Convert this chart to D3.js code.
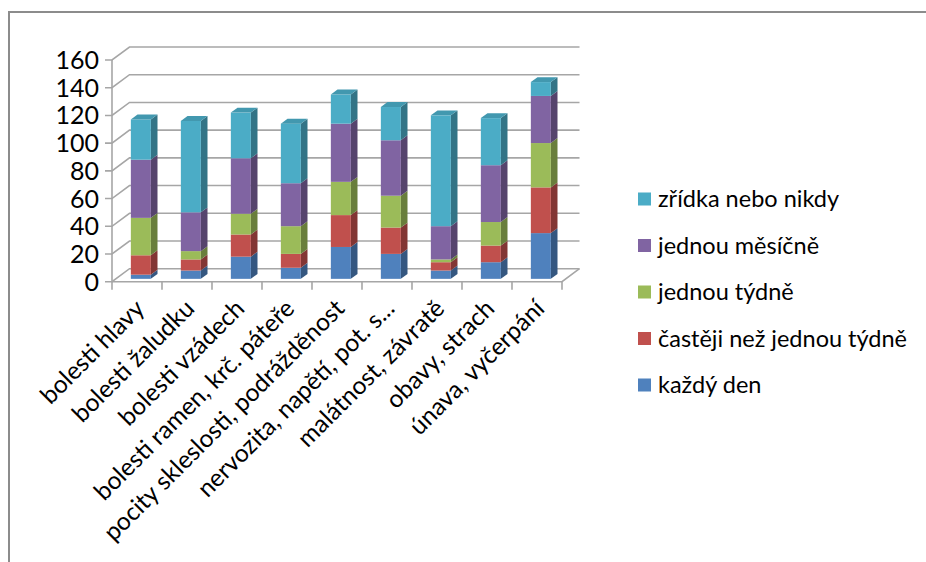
<!DOCTYPE html>
<html><head><meta charset="utf-8">
<script src="https://cdn.jsdelivr.net/npm/d3@7"></script>
<style>body{margin:0;background:#fff}svg{display:block}</style>
</head><body>
<svg id="c" width="926" height="562"></svg>
<script>
const categories = ["bolesti hlavy","bolesti žaludku","bolesti vzádech","bolesti ramen, krč. páteře","pocity skleslosti, podrážděnost","nervozita, napětí, pot. s...","malátnost, závratě","obavy, strach","únava, vyčerpání"];
const seriesNames = ["každý den","častěji než jednou týdně","jednou týdně","jednou měsíčně","zřídka nebo nikdy"];
const kazdyDen   = [3, 6, 16, 8, 23, 18, 6, 12, 33];
const castejiNez = [14, 8, 16, 10, 23, 19, 6, 12, 33];
const jednouTydne= [27, 6, 15, 20, 24, 23, 2, 17, 32];
const jednouMesicne=[42, 28, 40, 31, 42, 40, 24, 41, 34];
const zridka     = [29, 66, 33, 43, 21, 24, 80, 34, 10];
const yTicks = [0,20,40,60,80,100,120,140,160];

const seriesValues = [kazdyDen, castejiNez, jednouTydne, jednouMesicne, zridka];
const colors = ["#4F81BD","#C0504D","#9BBB59","#8064A2","#4BACC6"];

const svg = d3.select("#c");
const font = "Lato, 'Open Sans', sans-serif";

// border
svg.append("rect").attr("x",9).attr("y",12).attr("width",940).attr("height",600)
  .attr("fill","none").attr("stroke","#8c8c8c").attr("stroke-width",2);

const DX = 17.5, DY = -13;
const x = d3.scaleBand().domain(categories).range([112, 562]).paddingInner(0.6).paddingOuter(0.3);
const xb = d3.scaleBand().domain(categories).range([112, 562]);
const y = d3.scaleLinear().domain([0,160]).range([281.7, 60]);
const P = (px, py, d) => [px + DX*d, py + DY*d];

const grid = svg.append("g").attr("stroke","#a6a6a6").attr("stroke-width",1.6).attr("fill","none");
yTicks.forEach(t => {
  const yy = y(t);
  const [bx, by] = P(112, yy, 1);
  grid.append("path").attr("d", `M105,${yy}L112,${yy}L${bx},${by}L${562+DX},${by}`);
});
// axes
grid.append("line").attr("x1",112).attr("y1",y(0)).attr("x2",112).attr("y2",y(160));
grid.append("path").attr("d", `M112,${y(0)}L562,${y(0)}L${562+DX},${y(0)+DY}`);
categories.concat([null]).forEach((c,i) => {
  const xx = c ? xb(c) : 562;
  grid.append("line").attr("x1",xx).attr("x2",xx).attr("y1",y(0)).attr("y2",y(0)+8);
});

// y labels
svg.append("g").selectAll("text").data(yTicks).join("text")
  .attr("x",99).attr("y",d=>y(d)).attr("dy","0.36em").attr("text-anchor","end")
  .attr("font-family",font).attr("font-size",25).attr("fill","#000").text(d=>d);

// bars
const d0 = 0.22, d1 = 0.6;
const shade = (c,k) => d3.color(c).darker(k).formatHex();
const bars = svg.append("g");
categories.forEach((c,i) => {
  let cum = 0;
  seriesValues.forEach((vals, s) => {
    const v = vals[i];
    const lo = cum, hi = cum + v; cum = hi;
    const x0 = x(c), x1 = x(c) + x.bandwidth();
    const [fx0, fyb] = P(x0, y(lo), d0);
    const [fx1, fyt] = P(x1, y(hi), d0);
    const [sx1, syb] = P(x1, y(lo), d1);
    const [, syt] = P(x1, y(hi), d1);
    const [tx0] = P(x0, y(hi), d1);
    bars.append("path").attr("d",`M${fx1},${fyb}L${sx1},${syb}L${sx1},${syt}L${fx1},${fyt}Z`)
      .attr("fill", shade(colors[s],1.1));
    bars.append("rect").attr("x",fx0).attr("y",fyt).attr("width",fx1-fx0).attr("height",fyb-fyt)
      .attr("fill", colors[s]);
    if (s === seriesValues.length-1) {
      bars.append("path").attr("d",`M${fx0},${fyt}L${tx0},${syt}L${sx1},${syt}L${fx1},${fyt}Z`)
        .attr("fill", shade(colors[s],0.35));
    }
  });
});

// category labels
svg.append("g").selectAll("text").data(categories).join("text")
  .attr("transform", d => `translate(${xb(d)+xb.bandwidth()/2+9},${310}) rotate(-45)`)
  .attr("text-anchor","end").attr("font-family",font).attr("font-size",24.5).attr("fill","#000")
  .text(d=>d);

// legend
const legendOrder = [4,3,2,1,0];
const lg = svg.append("g");
legendOrder.forEach((s,k) => {
  const cy = 199 + k*46.5;
  lg.append("rect").attr("x",638).attr("y",cy-6.5).attr("width",13).attr("height",13).attr("fill",colors[s]);
  lg.append("text").attr("x",658).attr("y",cy).attr("dy","0.36em").attr("font-family",font)
    .attr("font-size",23.5).attr("fill","#000").text(seriesNames[s]);
});
</script>
</body></html>
